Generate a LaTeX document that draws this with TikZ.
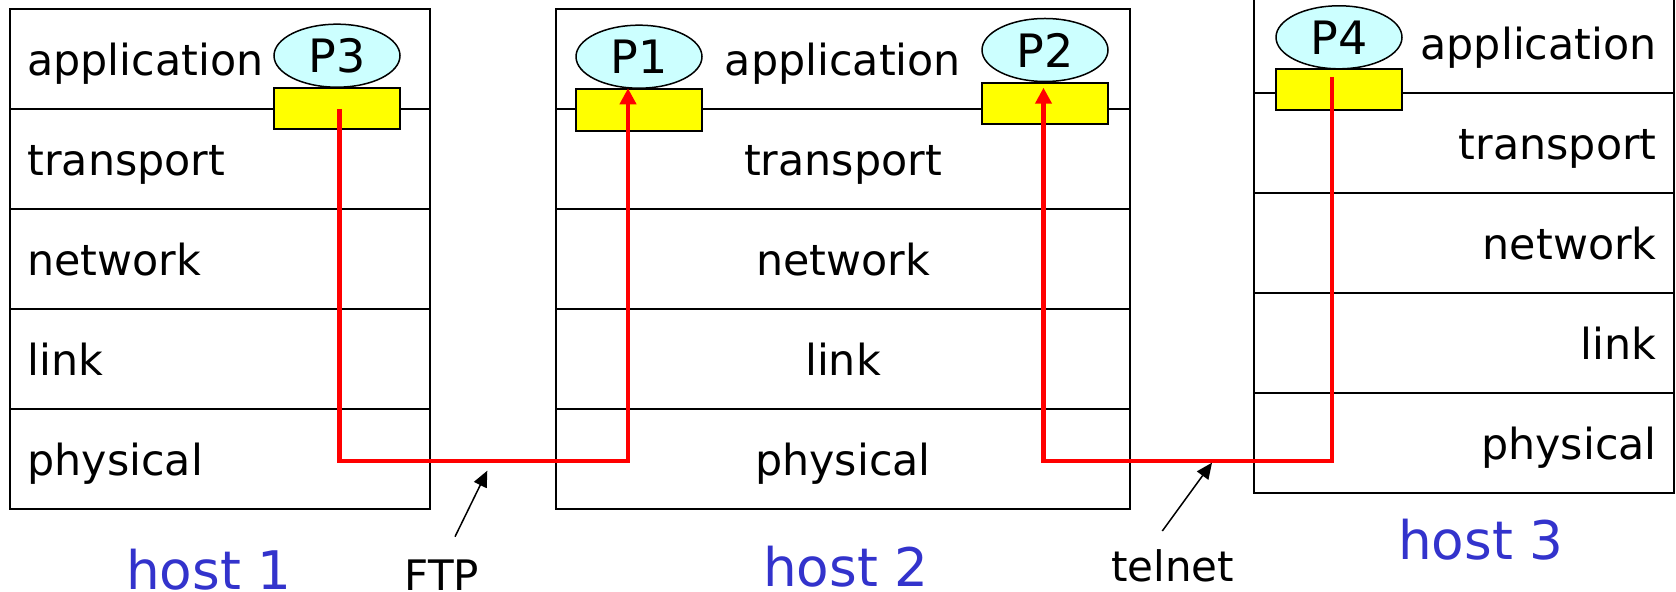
\documentclass[tikz,border=0pt]{standalone}
\usepackage{fontspec}
\setmainfont{DejaVu Sans}
\usetikzlibrary{shapes.geometric,arrows.meta}
\definecolor{procfill}{HTML}{CCFFFF}
\definecolor{hostblue}{HTML}{3333CC}
\definecolor{sockfill}{HTML}{FFFF00}
\definecolor{redline}{HTML}{FF0000}
\begin{document}
\begin{tikzpicture}[x=0.5pt,y=-0.5pt,
  layer/.style={draw=black,line width=1pt},
  lbl/.style={inner sep=0pt,font=\fontsize{21.4}{25}\selectfont},
  smalllbl/.style={inner sep=0pt,font=\fontsize{21}{25}\selectfont},
  hostlbl/.style={inner sep=0pt,text=hostblue,font=\fontsize{26.6}{31}\selectfont,anchor=base},
  proc/.style={ellipse,draw=black,line width=0.75pt,fill=procfill,minimum width=63pt,minimum height=31.5pt,inner sep=0pt,font=\fontsize{23}{27}\selectfont},
  sock/.style={rectangle,draw=black,line width=1pt,fill=sockfill,minimum width=63pt,minimum height=20.6pt,inner sep=0pt},
  redpath/.style={draw=redline,line width=2.1pt},
  redarrow/.style={redpath,-{Triangle[length=8pt,width=8pt]}},
  pointer/.style={draw=black,line width=0.75pt,-{Triangle[length=8pt,width=7pt]}}
]
\useasboundingbox (0,0) rectangle (1676,592);

% host 1 stack
\draw[layer] (10,9.5) rectangle (430,509);
\foreach \yy in {109,209,309,409} \draw[layer] (10,\yy) -- (430,\yy);
% host 2 stack
\draw[layer] (556,9.5) rectangle (1130,509);
\foreach \yy in {109,209,309,409} \draw[layer] (556,\yy) -- (1130,\yy);
% host 3 stack (top is cut off)
\draw[layer] (1254,-7) rectangle (1674,493);
\foreach \yy in {93,193,293,393} \draw[layer] (1254,\yy) -- (1674,\yy);

% layer labels host 1
\node[lbl,anchor=base west] (h1app) at (27,76) {application};
\node[lbl,anchor=base west] (h1tra) at (27,176) {transport};
\node[lbl,anchor=base west] (h1net) at (27,276) {network};
\node[lbl,anchor=base west] (h1lnk) at (27,376) {link};
\node[lbl,anchor=base west] (h1phy) at (27,476) {physical};
% layer labels host 2
\node[lbl,anchor=base] (h2app) at (843,76) {application};
\node[lbl,anchor=base] (h2tra) at (843,176) {transport};
\node[lbl,anchor=base] (h2net) at (843,276) {network};
\node[lbl,anchor=base] (h2lnk) at (843,376) {link};
\node[lbl,anchor=base] (h2phy) at (843,476) {physical};
% layer labels host 3
\node[lbl,anchor=base east] (h3app) at (1657,60) {application};
\node[lbl,anchor=base east] (h3tra) at (1657,160) {transport};
\node[lbl,anchor=base east] (h3net) at (1657,260) {network};
\node[lbl,anchor=base east] (h3lnk) at (1657,360) {link};
\node[lbl,anchor=base east] (h3phy) at (1657,460) {physical};

% sockets and processes
\node[sock] (s3) at (337,108.5) {};
\node[proc] (p3) at (337,55.7) {P3};
\node[sock] (s1) at (639,110) {};
\node[proc] (p1) at (639,56.7) {P1};
\node[sock] (s2) at (1045,103.8) {};
\node[proc] (p2) at (1045,50) {P2};
\node[sock] (s4) at (1339,89.5) {};
\node[proc] (p4) at (1339,37.3) {P4};

% red connection paths
\coordinate (r3) at (339.5,109);
\coordinate (ftpL) at (339.5,461);
\coordinate (ftpR) at (628,461);
\coordinate (tip1) at (628,88.3);
\draw[redarrow] (r3) -- (ftpL) -- (ftpR) -- (tip1);

\coordinate (r4) at (1331.7,77);
\coordinate (telR) at (1331.7,461);
\coordinate (telL) at (1043.5,461);
\coordinate (tip2) at (1043.5,87.7);
\draw[redarrow] (r4) -- (telR) -- (telL) -- (tip2);

% host labels
\node[hostlbl] (host1) at (209,590) {host 1};
\node[hostlbl] (host2) at (846,587) {host 2};
\node[hostlbl] (host3) at (1481,560) {host 3};

% FTP and telnet labels with pointers
\node[smalllbl,anchor=base] (ftp) at (442,591) {FTP};
\coordinate (ftpfrom) at (455,536.7);
\coordinate (ftptip) at (487.3,470.7);
\draw[pointer] (ftpfrom) -- (ftptip);

\node[smalllbl,anchor=base] (telnet) at (1172.5,582) {telnet};
\coordinate (telfrom) at (1162.3,531);
\coordinate (teltip) at (1212,462.7);
\draw[pointer] (telfrom) -- (teltip);
\end{tikzpicture}
\end{document}
